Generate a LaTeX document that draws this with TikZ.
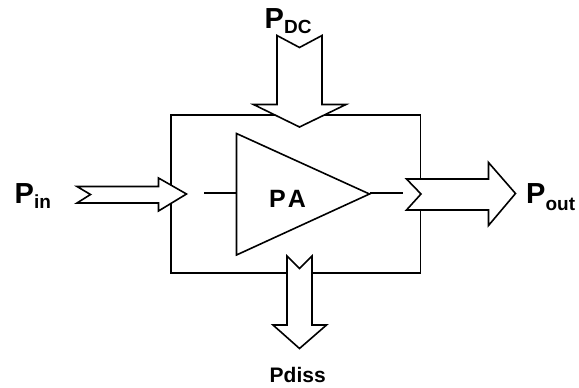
\documentclass[tikz,border=0pt]{standalone}
\usepackage{fontspec}
\setmainfont{Liberation Sans}
\begin{document}
\begin{tikzpicture}[x=1pt,y=-1pt,
  outline/.style={draw=black,line width=1.6pt,line join=miter},
  blockarrow/.style={draw=black,fill=white,line width=1.6pt,line join=miter},
  lbl/.style={inner sep=0pt,font=\bfseries}]
\useasboundingbox (0,0) rectangle (579,388);
% box
\draw[outline] (171,115) rectangle (420.5,273);
% amplifier triangle
\coordinate (tl) at (236.5,133.5);
\coordinate (bl) at (236.5,255);
\coordinate (tip) at (369.5,194);
\draw[outline] (tl) -- (tip) -- (bl) -- cycle;
\coordinate (inl) at (204,193);
\coordinate (inr) at (236.5,193);
\coordinate (outr) at (403,193);
\draw[outline] (inl) -- (inr);
\draw[outline] (tip |- outr) -- (outr);
% Pin arrow
\draw[blockarrow] (77,186.5) -- (158.5,186.5) -- (158.5,178) -- (186.5,194) -- (158.5,211) -- (158.5,203) -- (77,203) -- (90.5,194.5) -- cycle;
% Pout arrow
\draw[blockarrow] (406.5,179) -- (488.5,179) -- (488.5,162.5) -- (515.5,193.5) -- (488.5,225.5) -- (488.5,210) -- (406.5,210) -- (421,194) -- cycle;
% PDC arrow
\draw[blockarrow] (277,35.5) -- (299.5,47.5) -- (322,35.5) -- (322,104.5) -- (346,104.5) -- (299.5,127) -- (253.5,104.5) -- (277,104.5) -- cycle;
% Pdiss arrow
\draw[blockarrow] (287,256) -- (299.5,268.5) -- (312,256) -- (312,325) -- (326.5,325) -- (299.5,348.5) -- (273,325) -- (287,325) -- cycle;
% labels
\node[lbl,font=\bfseries\fontsize{25}{25}\selectfont] (pa) at (287.5,199) {P\hspace{2pt}A};
\node[lbl,anchor=base west] (pin) at (14.5,203.5) {\fontsize{29}{29}\selectfont P\raisebox{-4.5pt}{\fontsize{19}{19}\selectfont in}};
\node[lbl,anchor=base west] (pout) at (526,203.5) {\fontsize{29}{29}\selectfont P\raisebox{-7pt}{\fontsize{19}{19}\selectfont out}};
\node[lbl,anchor=base west] (pdc) at (264.5,28.5) {\fontsize{29}{29}\selectfont P\raisebox{-5pt}{\fontsize{19}{19}\selectfont DC}};
\node[lbl,anchor=base west,font=\bfseries\fontsize{21}{21}\selectfont] (pdiss) at (269.5,382.7) {Pdiss};
\end{tikzpicture}
\end{document}
